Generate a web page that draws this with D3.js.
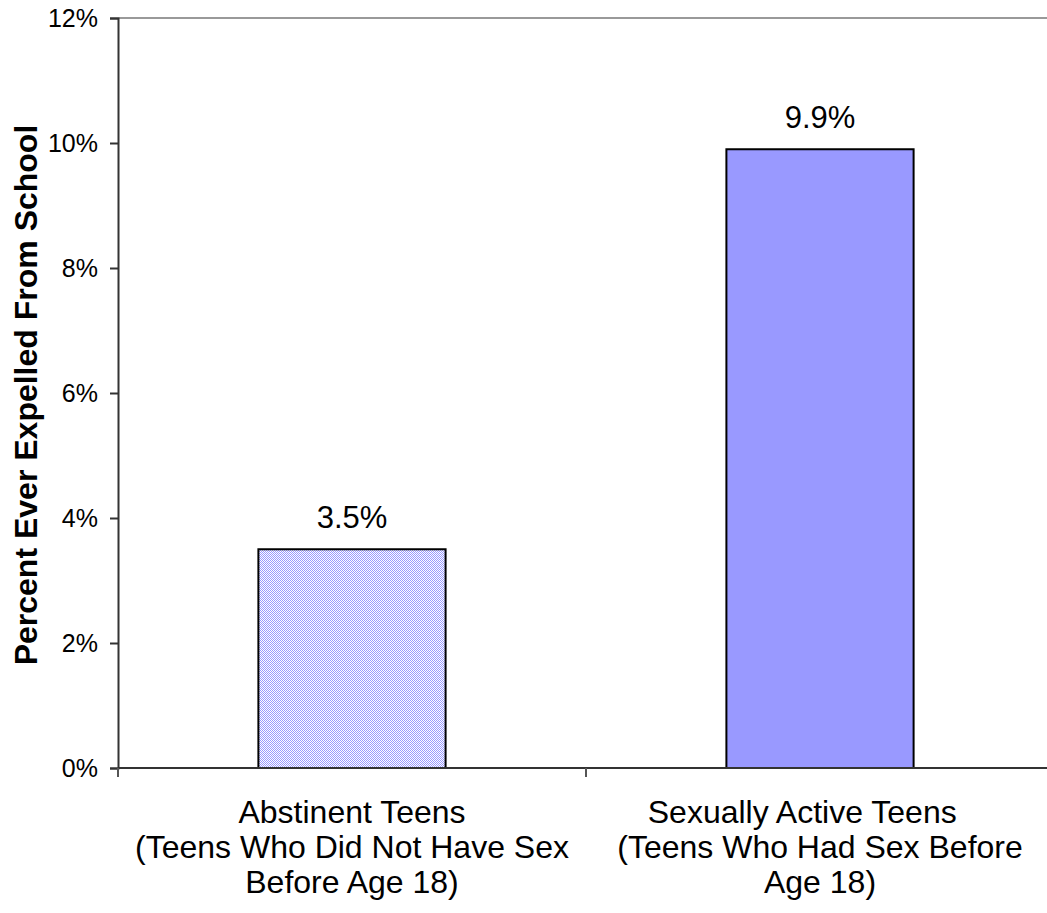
<!DOCTYPE html>
<html>
<head>
<meta charset="utf-8">
<script src="https://cdn.jsdelivr.net/npm/d3@7"></script>
<style>
    body { margin: 0; background: #fff; }
    svg text { font-family: "Liberation Sans", Arial, sans-serif; fill: #000; }
</style>
</head>
<body>
<svg id="chart" width="1047" height="913"></svg>
<script>
// chart data
var categories = ['abstinent', 'active'];
var categoryLines = [
    ['Abstinent Teens', '(Teens Who Did Not Have Sex', 'Before Age 18)'],
    ['Sexually Active Teens\u00a0\u00a0\u00a0\u00a0', '(Teens Who Had Sex Before', 'Age 18)']
];
var values = [3.5, 9.9];
var yTicks = [0, 2, 4, 6, 8, 10, 12];
var yTitle = 'Percent Ever Expelled From School';

var margin = {left: 118, top: 18, bottom: 768, right: 1054};

var svg = d3.select('#chart');

// checker pattern for the first bar
var defs = svg.append('defs');
var pat = defs.append('pattern')
    .attr('id', 'dither')
    .attr('width', 2)
    .attr('height', 2)
    .attr('patternUnits', 'userSpaceOnUse');
pat.append('rect').attr('width', 2).attr('height', 2).attr('fill', '#fff');
pat.append('rect').attr('width', 1).attr('height', 1).attr('fill', '#9999ff');
pat.append('rect').attr('x', 1).attr('y', 1).attr('width', 1).attr('height', 1).attr('fill', '#9999ff');

var fills = ['url(#dither)', '#9999ff'];

var x = d3.scaleBand()
    .domain(categories)
    .range([margin.left, margin.right])
    .paddingInner(0.6)
    .paddingOuter(0.3);

var y = d3.scaleLinear()
    .domain([0, 12])
    .range([margin.bottom, margin.top]);

// top border of plot area
svg.append('line')
    .attr('x1', margin.left)
    .attr('x2', 1047)
    .attr('y1', y(12))
    .attr('y2', y(12))
    .attr('stroke', '#999')
    .attr('stroke-width', 2);

// bars
svg.selectAll('rect.bar')
    .data(values)
    .enter()
    .append('rect')
    .attr('class', 'bar')
    .attr('x', function(d, i) { return x(categories[i]); })
    .attr('y', function(d) { return y(d); })
    .attr('width', x.bandwidth())
    .attr('height', function(d) { return y(0) - y(d); })
    .attr('fill', function(d, i) { return fills[i]; })
    .attr('stroke', '#000')
    .attr('stroke-width', 2);

// value labels
svg.selectAll('text.val')
    .data(values)
    .enter()
    .append('text')
    .attr('class', 'val')
    .attr('x', function(d, i) { return x(categories[i]) + x.bandwidth() / 2; })
    .attr('y', function(d) { return y(d) - 21; })
    .attr('text-anchor', 'middle')
    .style('font-size', '31px')
    .text(function(d) { return d.toFixed(1) + '%'; });

// y axis
var yAxis = d3.axisLeft(y)
    .tickValues(yTicks)
    .tickSize(8)
    .tickPadding(12)
    .tickFormat(function(d) { return d + '%'; });

var gy = svg.append('g')
    .attr('transform', 'translate(' + margin.left + ',0)')
    .call(yAxis);
gy.select('.domain').attr('stroke', '#333').attr('stroke-width', 2);
gy.selectAll('.tick line').attr('stroke', '#333').attr('stroke-width', 2);
gy.selectAll('.tick text')
    .style('font-size', '25px')
    .style('font-family', '"Liberation Sans", Arial, sans-serif')
    .attr('fill', '#000');

// x axis line with ticks at band edges
svg.append('line')
    .attr('x1', margin.left)
    .attr('x2', 1047)
    .attr('y1', y(0))
    .attr('y2', y(0))
    .attr('stroke', '#333')
    .attr('stroke-width', 2);

var step = x.step();
var edges = [margin.left, margin.left + step];
svg.selectAll('line.xtick')
    .data(edges)
    .enter()
    .append('line')
    .attr('class', 'xtick')
    .attr('x1', function(d) { return d; })
    .attr('x2', function(d) { return d; })
    .attr('y1', y(0))
    .attr('y2', y(0) + 9)
    .attr('stroke', '#555')
    .attr('stroke-width', 2);

// category labels
categories.forEach(function(c, i) {
    var cx = x(c) + x.bandwidth() / 2;
    var t = svg.append('text')
        .attr('text-anchor', 'middle')
        .attr('y', 823)
        .style('font-size', '32px')
        .style('white-space', 'pre');
    categoryLines[i].forEach(function(line, j) {
        t.append('tspan')
            .attr('x', cx)
            .attr('dy', j === 0 ? 0 : 35)
            .text(line);
    });
});

// y title
svg.append('text')
    .attr('transform', 'translate(37,395) rotate(-90)')
    .attr('text-anchor', 'middle')
    .style('font-size', '32px')
    .style('font-weight', 'bold')
    .text(yTitle);
</script>
</body>
</html>
